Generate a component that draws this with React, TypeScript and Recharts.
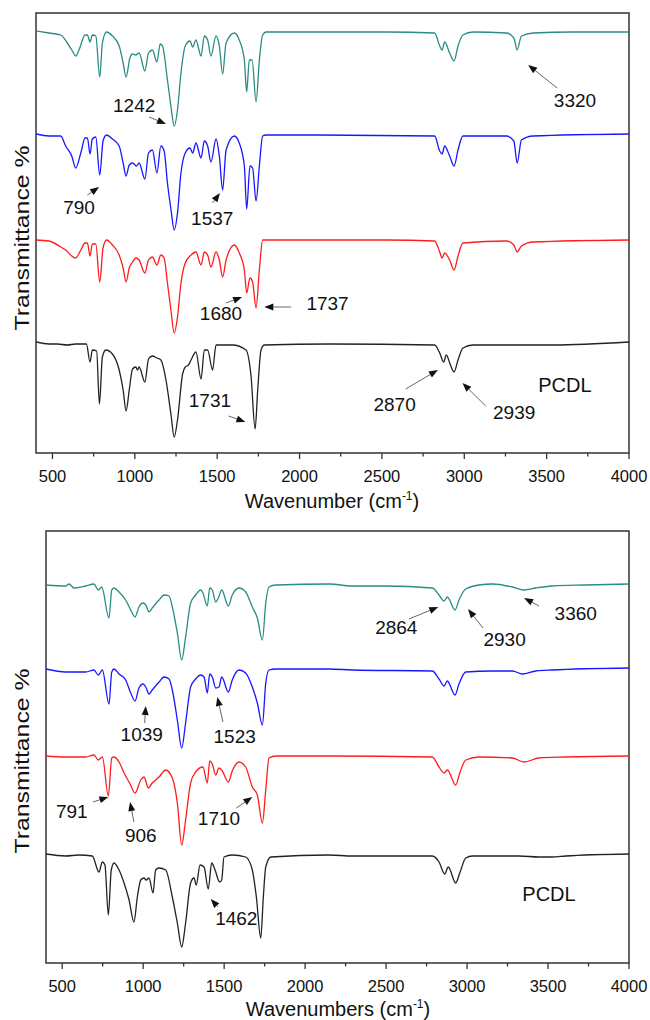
import React from 'react';
import { LineChart, Line, XAxis, YAxis, ReferenceArea, ReferenceLine, ReferenceDot } from 'recharts';

type Pt = [number, number];

const FONT = 'Arial, "Liberation Sans", Helvetica, sans-serif';

// FTIR spectra: [wavenumber, transmittance] with 100 = flat baseline of each trace
const topTeal: Pt[] = [
  [400, 101], [479, 99], [550, 97], [590, 89], [621, 81], [641, 76], [661, 82], [698, 97], [712, 97], [728, 90],
  [742, 97], [763, 96], [787, 55], [803, 89], [828, 100], [864, 96], [905, 86], [929, 69], [947, 55], [970, 74],
  [986, 78], [1006, 77], [1026, 79], [1061, 61], [1083, 79], [1107, 82], [1134, 70], [1154, 88], [1168, 86], [1198, 52],
  [1219, 26], [1239, 6], [1259, 22], [1280, 59], [1306, 86], [1335, 91], [1351, 85], [1371, 92], [1402, 76], [1422, 96],
  [1442, 92], [1462, 76], [1493, 96], [1513, 86], [1533, 58], [1554, 89], [1604, 99], [1634, 92], [1665, 72], [1679, 40],
  [1695, 72], [1712, 72], [1736, 30], [1756, 72], [1776, 97], [1797, 100], [2182, 100], [2527, 100], [2820, 99], [2851, 86],
  [2865, 82], [2881, 90], [2911, 79], [2938, 71], [2962, 86], [2992, 97], [3053, 100], [3256, 99], [3301, 94], [3321, 82],
  [3347, 96], [3418, 99], [3661, 100], [4000, 100],
];
const topBlue: Pt[] = [
  [400, 100], [479, 98], [550, 98], [580, 88], [617, 78], [641, 66], [672, 81], [698, 96], [712, 96], [728, 80],
  [742, 95], [763, 97], [787, 59], [807, 93], [828, 99], [864, 95], [905, 88], [929, 71], [947, 58], [966, 69],
  [986, 71], [1010, 68], [1026, 71], [1061, 55], [1083, 81], [1107, 84], [1134, 61], [1158, 88], [1178, 83], [1198, 51],
  [1219, 25], [1239, 4], [1259, 21], [1280, 61], [1306, 81], [1335, 86], [1351, 81], [1371, 91], [1402, 76], [1422, 93],
  [1442, 88], [1462, 72], [1493, 95], [1513, 78], [1533, 44], [1554, 84], [1604, 98], [1634, 91], [1665, 68], [1679, 25],
  [1699, 68], [1715, 66], [1736, 33], [1756, 68], [1776, 98], [1797, 99], [2121, 99], [2820, 98], [2851, 83], [2865, 80],
  [2881, 88], [2911, 78], [2938, 68], [2962, 84], [2992, 98], [3256, 98], [3301, 93], [3321, 71], [3347, 94], [3418, 98],
  [4000, 100],
];
const topRed: Pt[] = [
  [400, 100], [479, 99], [550, 93], [580, 90], [617, 84], [641, 82], [672, 90], [698, 97], [712, 97], [728, 84],
  [742, 96], [763, 96], [787, 58], [807, 92], [828, 100], [864, 95], [905, 85], [929, 72], [947, 58], [966, 72],
  [986, 78], [1006, 82], [1026, 80], [1061, 67], [1083, 80], [1107, 83], [1134, 75], [1158, 85], [1178, 82], [1198, 57],
  [1219, 30], [1239, 7], [1259, 23], [1280, 57], [1306, 77], [1341, 85], [1371, 88], [1402, 75], [1422, 88], [1442, 85],
  [1462, 73], [1493, 88], [1513, 80], [1533, 63], [1554, 80], [1604, 95], [1634, 87], [1665, 70], [1679, 47], [1699, 62],
  [1715, 58], [1736, 32], [1756, 70], [1776, 100], [2527, 100], [2820, 99], [2851, 88], [2865, 82], [2881, 87], [2911, 80],
  [2938, 70], [2962, 84], [2992, 97], [3256, 99], [3301, 95], [3321, 88], [3347, 94], [3418, 98], [4000, 100],
];
const topBlack: Pt[] = [
  [400, 101], [479, 99], [530, 99], [590, 98], [640, 99], [706, 99], [728, 81], [742, 93], [768, 92], [785, 39],
  [803, 86], [824, 93], [864, 89], [905, 73], [929, 53], [947, 32], [966, 53], [986, 74], [1006, 76], [1016, 73],
  [1026, 76], [1061, 61], [1083, 84], [1107, 87], [1134, 85], [1158, 83], [1189, 63], [1219, 29], [1239, 6], [1259, 23],
  [1290, 69], [1306, 76], [1326, 78], [1341, 83], [1371, 91], [1402, 64], [1422, 93], [1442, 93], [1472, 73], [1493, 98],
  [1594, 98], [1675, 93], [1706, 66], [1730, 14], [1746, 53], [1766, 93], [1786, 98], [2182, 99], [2820, 98], [2851, 90],
  [2875, 81], [2891, 88], [2916, 78], [2938, 71], [2962, 83], [2992, 95], [3053, 98], [3418, 98], [3540, 98], [4000, 101],
];

const botTeal: Pt[] = [
  [400, 100], [522, 99], [542, 101], [573, 97], [645, 99], [696, 101], [723, 95], [744, 98], [789, 67], [806, 95],
  [820, 97], [851, 93], [892, 85], [923, 75], [950, 68], [974, 78], [999, 82], [1016, 80], [1036, 73], [1056, 77],
  [1098, 85], [1129, 90], [1160, 89], [1180, 78], [1211, 52], [1238, 25], [1262, 48], [1293, 82], [1324, 90], [1355, 95],
  [1369, 92], [1396, 79], [1411, 97], [1427, 95], [1448, 83], [1464, 87], [1485, 95], [1526, 79], [1550, 90], [1592, 97],
  [1633, 93], [1674, 78], [1705, 67], [1736, 45], [1757, 82], [1777, 98], [1819, 100], [2147, 101], [2291, 99], [2498, 99],
  [2785, 97], [2827, 90], [2858, 84], [2878, 88], [2926, 75], [2950, 85], [2992, 96], [3074, 100], [3156, 101], [3280, 98],
  [3352, 95], [3424, 97], [3526, 99], [3732, 100], [4000, 101],
];
const botBlue: Pt[] = [
  [400, 100], [522, 97], [645, 97], [696, 99], [723, 94], [748, 99], [789, 65], [806, 97], [820, 100], [851, 95],
  [892, 89], [923, 76], [950, 68], [974, 81], [999, 85], [1016, 82], [1036, 75], [1056, 79], [1098, 87], [1129, 92],
  [1160, 90], [1180, 79], [1211, 49], [1238, 21], [1262, 46], [1293, 82], [1324, 90], [1355, 94], [1376, 92], [1396, 76],
  [1411, 95], [1427, 92], [1448, 81], [1468, 82], [1485, 92], [1526, 77], [1550, 89], [1592, 99], [1633, 96], [1674, 82],
  [1705, 66], [1736, 44], [1757, 86], [1777, 99], [1819, 100], [2147, 100], [2291, 99], [2785, 98], [2827, 90], [2858, 83],
  [2878, 88], [2926, 74], [2950, 85], [2992, 97], [3156, 98], [3280, 98], [3342, 95], [3424, 98], [3526, 99], [4000, 101],
];
const botRed: Pt[] = [
  [400, 100], [522, 99], [645, 99], [696, 101], [723, 96], [748, 99], [785, 60], [806, 98], [820, 99], [851, 94],
  [882, 83], [916, 73], [950, 63], [985, 76], [1005, 79], [1032, 68], [1056, 73], [1098, 79], [1139, 86], [1180, 78],
  [1211, 53], [1238, 11], [1262, 36], [1293, 73], [1324, 84], [1369, 89], [1396, 73], [1411, 95], [1427, 92], [1448, 81],
  [1468, 88], [1485, 86], [1526, 74], [1550, 85], [1592, 94], [1633, 89], [1674, 69], [1705, 61], [1736, 33], [1757, 66],
  [1777, 98], [1819, 100], [2147, 100], [2785, 99], [2827, 89], [2858, 83], [2878, 86], [2930, 71], [2955, 83], [2992, 96],
  [3074, 99], [3280, 98], [3352, 94], [3444, 98], [3609, 99], [4000, 100],
];
const botBlack: Pt[] = [
  [400, 101], [522, 99], [604, 100], [686, 99], [727, 83], [748, 93], [764, 90], [785, 40], [803, 85], [820, 92],
  [851, 85], [882, 72], [913, 55], [943, 33], [964, 58], [985, 75], [1005, 77], [1019, 75], [1036, 77], [1061, 62],
  [1077, 85], [1098, 87], [1139, 85], [1180, 58], [1211, 32], [1238, 8], [1262, 32], [1293, 72], [1314, 77], [1328, 70],
  [1351, 90], [1376, 88], [1402, 66], [1423, 92], [1444, 85], [1472, 73], [1485, 75], [1499, 98], [1550, 100], [1633, 98],
  [1674, 85], [1699, 58], [1726, 17], [1742, 58], [1757, 88], [1788, 98], [2147, 100], [2291, 99], [2785, 99], [2827, 93],
  [2862, 81], [2884, 88], [2930, 72], [2955, 82], [2992, 97], [3032, 99], [3321, 99], [3444, 98], [3526, 98], [3609, 99],
  [4000, 101],
];

const xTicks = [500, 750, 1000, 1250, 1500, 1750, 2000, 2250, 2500, 2750, 3000, 3250, 3500, 3750, 4000];

type Note = { text: string; wn: number; t: number };
type Arrow = { from: Pt; to: Pt };

// peak labels and arrows, in chart units (wavenumber, stacked value)
const topNotes: Note[] = [
  { text: '1242', wn: 996, t: 348 },
  { text: '790', wn: 661, t: 246 },
  { text: '1537', wn: 1470, t: 235 },
  { text: '3320', wn: 3672, t: 353 },
  { text: '1680', wn: 1523, t: 140 },
  { text: '1737', wn: 2170, t: 150 },
  { text: '1731', wn: 1456, t: 53 },
  { text: '2870', wn: 2577, t: 49 },
  { text: '2939', wn: 3303, t: 41 },
];
const topArrows: Arrow[] = [
  { from: [1087, 336], to: [1189, 329] },
  { from: [712, 258], to: [783, 266] },
  { from: [1472, 250], to: [1517, 260] },
  { from: [3564, 365], to: [3388, 388] },
  { from: [1554, 150], to: [1651, 156] },
  { from: [1949, 146], to: [1786, 146] },
  { from: [1569, 37], to: [1671, 31] },
  { from: [2644, 64], to: [2840, 83] },
  { from: [3130, 47], to: [2989, 70] },
];
const botNotes: Note[] = [
  { text: '2864', wn: 2563, t: 336 },
  { text: '2930', wn: 3232, t: 324 },
  { text: '3360', wn: 3671, t: 350 },
  { text: '1039', wn: 991, t: 229 },
  { text: '1523', wn: 1565, t: 227 },
  { text: '791', wn: 559, t: 152 },
  { text: '906', wn: 985, t: 128 },
  { text: '1710', wn: 1468, t: 145 },
  { text: '1462', wn: 1575, t: 45 },
];
const botArrows: Arrow[] = [
  { from: [2641, 344], to: [2822, 356] },
  { from: [3098, 335], to: [3006, 354] },
  { from: [3444, 357], to: [3352, 365] },
  { from: [1009, 240], to: [1016, 257] },
  { from: [1493, 241], to: [1458, 266] },
  { from: [690, 161], to: [785, 166] },
  { from: [943, 141], to: [919, 161] },
  { from: [1575, 155], to: [1674, 166] },
  { from: [1462, 56], to: [1417, 64] },
];

const TEAL = '#2a8c84';
const BLUE = '#1717ff';
const RED = '#ff1c1c';
const BLACK = '#222222';

type Series = { data: Pt[]; color: string; shift: number };

const AxisTick = (props: any) => {
  const { x, y, payload } = props;
  const major = payload.value % 500 === 0;
  return (
    <g>
      <line x1={x} x2={x} y1={y} y2={y + (major ? 6 : 3.5)} stroke="#333" strokeWidth={1.3} />
      {major && (
        <text x={x} y={y + 29} textAnchor="middle" fontSize={16.5} fontFamily={FONT} fill="#111">
          {payload.value}
        </text>
      )}
    </g>
  );
};

const ArrowShape = (props: any) => {
  const { x1, y1, x2, y2 } = props;
  const a = Math.atan2(y2 - y1, x2 - x1);
  const c = Math.cos(a);
  const s = Math.sin(a);
  const bx = x2 - 9 * c;
  const by = y2 - 9 * s;
  const pts = `${x2},${y2} ${bx - 3.5 * s},${by + 3.5 * c} ${bx + 3.5 * s},${by - 3.5 * c}`;
  return (
    <g>
      <line x1={x1} y1={y1} x2={bx} y2={by} stroke="#555" strokeWidth={0.9} />
      <polygon points={pts} fill="#111" />
    </g>
  );
};

const XTitle = (props: any) => (
  <text x={props.px} y={props.py} textAnchor="middle" fontSize={20} fontFamily={FONT} fill="#111">
    <tspan>{props.title} (cm</tspan>
    <tspan dy={-8} fontSize={12}>-1</tspan>
    <tspan dy={8}>)</tspan>
  </text>
);

const YTitle = (props: any) => (
  <text
    x={21}
    y={props.py}
    transform={`rotate(-90 21 ${props.py})`}
    textAnchor="middle"
    dominantBaseline="central"
    fontSize={21}
    fontFamily={FONT}
    fill="#111"
    textLength={185}
    lengthAdjust="spacingAndGlyphs"
  >
    Transmittance %
  </text>
);

type PanelProps = {
  series: Series[];
  notes: Note[];
  arrows: Arrow[];
  height: number;
  mTop: number;
  mBottom: number;
  yw: number;
  yMax: number;
  xTitle: string;
  xTitlePos: Pt;
  yTitleY: number;
  pcdl: Pt;
};

const Panel = (p: PanelProps) => (
  <LineChart width={650} height={p.height} margin={{ top: p.mTop, right: 21, bottom: p.mBottom, left: 0 }}>
    <XAxis
      type="number"
      dataKey="wn"
      domain={[400, 4000]}
      ticks={xTicks}
      interval={0}
      height={40}
      axisLine={false}
      tickLine={false}
      tickSize={0}
      tickMargin={0}
      tick={<AxisTick />}
      allowDataOverflow
      label={<XTitle px={p.xTitlePos[0]} py={p.xTitlePos[1]} title={p.xTitle} />}
    />
    <YAxis
      type="number"
      domain={[0, p.yMax]}
      width={p.yw}
      tick={false}
      axisLine={false}
      tickLine={false}
      allowDataOverflow
      label={<YTitle py={p.yTitleY} />}
    />
    <ReferenceArea x1={400} x2={4000} y1={0} y2={p.yMax} fill="none" stroke="#333" strokeWidth={1.5} />
    {p.series.map((s, i) => (
      <Line
        key={i}
        data={s.data.map(([wn, t]) => ({ wn, v: t + s.shift }))}
        dataKey="v"
        type="monotone"
        stroke={s.color}
        strokeWidth={1.3}
        dot={false}
        activeDot={false}
        isAnimationActive={false}
      />
    ))}
    {p.arrows.map((a, i) => (
      <ReferenceLine
        key={'a' + i}
        segment={[{ x: a.from[0], y: a.from[1] }, { x: a.to[0], y: a.to[1] }]}
        ifOverflow="visible"
        shape={ArrowShape}
      />
    ))}
    {p.notes.map((n, i) => (
      <ReferenceDot
        key={'n' + i}
        x={n.wn}
        y={n.t}
        r={0}
        ifOverflow="visible"
        shape={(d: any) => (
          <text x={d.cx} y={d.cy} textAnchor="middle" dominantBaseline="central" fontSize={19} fontFamily={FONT} fill="#111">
            {n.text}
          </text>
        )}
      />
    ))}
    <ReferenceDot
      x={p.pcdl[0]}
      y={p.pcdl[1]}
      r={0}
      ifOverflow="visible"
      shape={(d: any) => (
        <text x={d.cx} y={d.cy} textAnchor="middle" dominantBaseline="central" fontSize={20} fontFamily={FONT} fill="#111">
          PCDL
        </text>
      )}
    />
  </LineChart>
);

export default function App() {
  return (
    <div style={{ position: 'absolute', left: 0, top: 0, width: 650, height: 1020, background: '#fff' }}>
      <div style={{ position: 'absolute', left: 0, top: 0 }}>
        <Panel
          series={[
            { data: topTeal, color: TEAL, shift: 321 },
            { data: topBlue, color: BLUE, shift: 219 },
            { data: topRed, color: RED, shift: 113 },
            { data: topBlack, color: BLACK, shift: 10 },
          ]}
          notes={topNotes}
          arrows={topArrows}
          height={520}
          mTop={13}
          mBottom={27}
          yw={36}
          yMax={440}
          xTitle="Wavenumber"
          xTitlePos={[332, 508]}
          yTitleY={238}
          pcdl={[3611, 68]}
        />
      </div>
      <div style={{ position: 'absolute', left: 0, top: 520 }}>
        <Panel
          series={[
            { data: botTeal, color: TEAL, shift: 278 },
            { data: botBlue, color: BLUE, shift: 194 },
            { data: botRed, color: RED, shift: 107 },
            { data: botBlack, color: BLACK, shift: 8 },
          ]}
          notes={botNotes}
          arrows={botArrows}
          height={500}
          mTop={11}
          mBottom={17}
          yw={46}
          yMax={432}
          xTitle="Wavenumbers"
          xTitlePos={[338, 496]}
          yTitleY={241}
          pcdl={[3506, 69]}
        />
      </div>
    </div>
  );
}
